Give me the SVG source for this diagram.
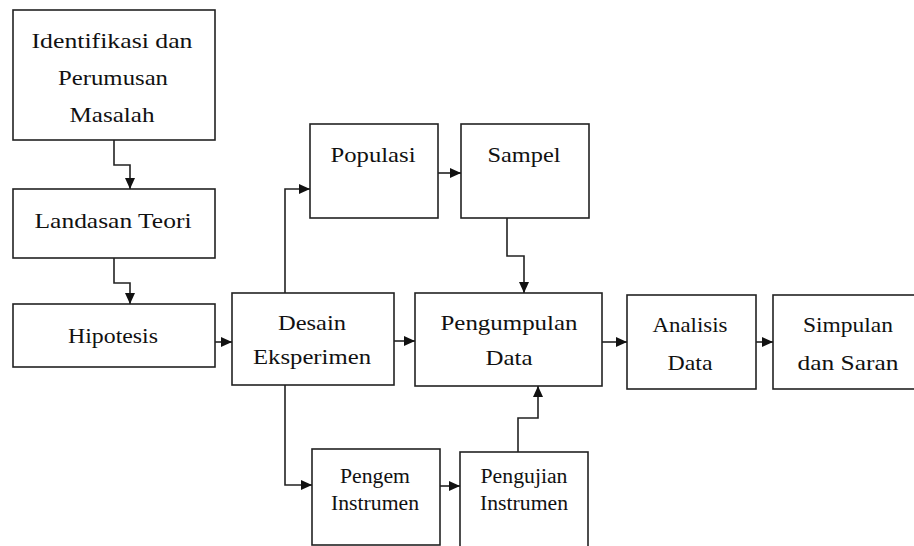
<svg xmlns="http://www.w3.org/2000/svg" width="914" height="546" viewBox="0 0 914 546">
<style>
  .box { fill: #ffffff; stroke: #222222; stroke-width: 1.6; }
  .conn { fill: none; stroke: #222222; stroke-width: 1.6; }
  text { font-family: 'Liberation Serif', 'Times New Roman', serif; fill: #111111; text-anchor: middle; }
  .t { font-size: 22px; }
  .s { font-size: 20px; }
</style>
<defs>
  <marker id="arr" markerUnits="userSpaceOnUse" markerWidth="11" markerHeight="10" refX="11" refY="5" orient="auto">
    <path d="M0,0 L11,5 L0,10 z" fill="#111111"/>
  </marker>
</defs>
<rect width="914" height="546" fill="#ffffff"/>

<g id="n-identifikasi">
  <rect class="box" x="13" y="10" width="202" height="130"/>
  <text class="t" x="112" y="48" textLength="161" lengthAdjust="spacingAndGlyphs">Identifikasi  dan</text>
  <text class="t" x="113" y="85" textLength="110" lengthAdjust="spacingAndGlyphs">Perumusan</text>
  <text class="t" x="112" y="122" textLength="85" lengthAdjust="spacingAndGlyphs">Masalah</text>
</g>
<g id="n-landasan">
  <rect class="box" x="13" y="189" width="202" height="69"/>
  <text class="t" x="113" y="228" textLength="157" lengthAdjust="spacingAndGlyphs">Landasan Teori</text>
</g>
<g id="n-hipotesis">
  <rect class="box" x="13" y="304" width="202" height="63"/>
  <text class="t" x="113" y="343" textLength="90" lengthAdjust="spacingAndGlyphs">Hipotesis</text>
</g>
<g id="n-desain">
  <rect class="box" x="232" y="293" width="162" height="92"/>
  <text class="t" x="312" y="330" textLength="68" lengthAdjust="spacingAndGlyphs">Desain</text>
  <text class="t" x="312" y="364" textLength="118" lengthAdjust="spacingAndGlyphs">Eksperimen</text>
</g>
<g id="n-populasi">
  <rect class="box" x="310" y="124" width="128" height="94"/>
  <text class="t" x="373" y="162" textLength="85" lengthAdjust="spacingAndGlyphs">Populasi</text>
</g>
<g id="n-sampel">
  <rect class="box" x="461" y="124" width="128" height="94"/>
  <text class="t" x="524" y="162" textLength="73" lengthAdjust="spacingAndGlyphs">Sampel</text>
</g>
<g id="n-pengumpulan">
  <rect class="box" x="415" y="293" width="187" height="93"/>
  <text class="t" x="509" y="330" textLength="137" lengthAdjust="spacingAndGlyphs">Pengumpulan</text>
  <text class="t" x="509" y="365" textLength="47" lengthAdjust="spacingAndGlyphs">Data</text>
</g>
<g id="n-analisis">
  <rect class="box" x="627" y="295" width="129" height="94"/>
  <text class="t" x="690" y="332" textLength="75" lengthAdjust="spacingAndGlyphs">Analisis</text>
  <text class="t" x="690" y="370" textLength="45" lengthAdjust="spacingAndGlyphs">Data</text>
</g>
<g id="n-simpulan">
  <rect class="box" x="773" y="295" width="150" height="94"/>
  <text class="t" x="848" y="332" textLength="90" lengthAdjust="spacingAndGlyphs">Simpulan</text>
  <text class="t" x="848" y="370" textLength="101" lengthAdjust="spacingAndGlyphs">dan Saran</text>
</g>
<g id="n-pengem">
  <rect class="box" x="312" y="449" width="128" height="96"/>
  <text class="s" x="375" y="483" textLength="70" lengthAdjust="spacingAndGlyphs">Pengem</text>
  <text class="s" x="375" y="510" textLength="88" lengthAdjust="spacingAndGlyphs">Instrumen</text>
</g>
<g id="n-pengujian">
  <rect class="box" x="460" y="452" width="128" height="110"/>
  <text class="s" x="524" y="483" textLength="87" lengthAdjust="spacingAndGlyphs">Pengujian</text>
  <text class="s" x="524" y="510" textLength="88" lengthAdjust="spacingAndGlyphs">Instrumen</text>
</g>

<g id="connectors">
  <path class="conn" d="M114,140 V165 H130 V189" marker-end="url(#arr)"/>
  <path class="conn" d="M114,258 V283 H130 V304" marker-end="url(#arr)"/>
  <path class="conn" d="M215,342 H232" marker-end="url(#arr)"/>
  <path class="conn" d="M285,293 V189 H310" marker-end="url(#arr)"/>
  <path class="conn" d="M438,173 H461" marker-end="url(#arr)"/>
  <path class="conn" d="M507,218 V256 H524 V293" marker-end="url(#arr)"/>
  <path class="conn" d="M394,341 H415" marker-end="url(#arr)"/>
  <path class="conn" d="M602,342 H627" marker-end="url(#arr)"/>
  <path class="conn" d="M756,342 H773" marker-end="url(#arr)"/>
  <path class="conn" d="M285,385 V485 H312" marker-end="url(#arr)"/>
  <path class="conn" d="M440,486 H460" marker-end="url(#arr)"/>
  <path class="conn" d="M518,452 V418 H538 V386" marker-end="url(#arr)"/>
</g>
</svg>
